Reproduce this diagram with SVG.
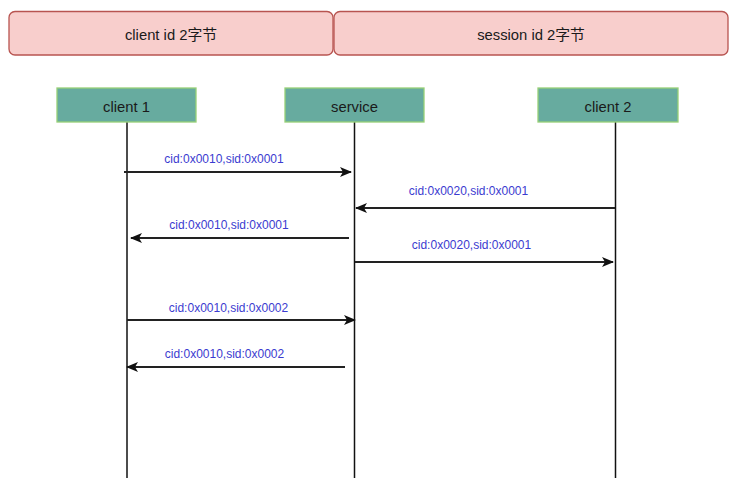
<svg xmlns="http://www.w3.org/2000/svg" width="735" height="493" viewBox="0 0 735 493">
<style>
.hdr{fill:#f8cecc;stroke:#b85450;stroke-width:1.3}
.part{fill:#67ab9f;stroke:#97d077;stroke-width:1.3}
.t{font-family:"Liberation Sans","Noto Sans CJK SC",Arial,sans-serif;font-size:14.8px;fill:#1a1a1a;text-anchor:middle;dominant-baseline:central}
.lbl{font-family:"Liberation Sans",Arial,sans-serif;font-size:12px;fill:#3b3bd0;text-anchor:middle}
.life{stroke:#111;stroke-width:1.5;fill:none}
.msg{stroke:#222;stroke-width:1.8;fill:none;marker-end:url(#ah)}
</style>
<defs>
<marker id="ah" viewBox="0 0 12 10" refX="11" refY="5" markerWidth="12" markerHeight="10" markerUnits="userSpaceOnUse" orient="auto">
<path d="M0,0 L12,5 L0,10 L3,5 Z" fill="#111"/>
</marker>
</defs>
<rect width="735" height="493" fill="#ffffff"/>
<g id="hdr-client">
<rect class="hdr" x="9" y="11.5" width="324" height="43.5" rx="6"/>
<text class="t" x="171" y="35">client id 2字节</text>
</g>
<g id="hdr-session">
<rect class="hdr" x="334" y="11.5" width="394" height="43.5" rx="6"/>
<text class="t" x="531" y="35">session id 2字节</text>
</g>
<g id="lifelines">
<line class="life" x1="127" y1="122" x2="127" y2="478"/>
<line class="life" x1="354.5" y1="122" x2="354.5" y2="478"/>
<line class="life" x1="615.5" y1="122" x2="615.5" y2="478"/>
</g>
<g id="client1">
<rect class="part" x="57" y="88" width="139" height="34"/>
<text class="t" x="126.5" y="106.5">client 1</text>
</g>
<g id="service">
<rect class="part" x="285" y="88" width="139" height="34"/>
<text class="t" x="354.5" y="106.5">service</text>
</g>
<g id="client2">
<rect class="part" x="538" y="88" width="140" height="34"/>
<text class="t" x="608" y="106.5">client 2</text>
</g>
<g id="connectors">
<line class="msg" x1="124" y1="172" x2="351" y2="172"/>
<text class="lbl" x="224" y="163">cid:0x0010,sid:0x0001</text>
<line class="msg" x1="615" y1="208" x2="356" y2="208"/>
<text class="lbl" x="468.5" y="195">cid:0x0020,sid:0x0001</text>
<line class="msg" x1="349" y1="238" x2="131" y2="238"/>
<text class="lbl" x="229" y="229">cid:0x0010,sid:0x0001</text>
<line class="msg" x1="355" y1="262" x2="613" y2="262"/>
<text class="lbl" x="471.5" y="249">cid:0x0020,sid:0x0001</text>
<line class="msg" x1="127" y1="320" x2="355" y2="320"/>
<text class="lbl" x="228.5" y="312">cid:0x0010,sid:0x0002</text>
<line class="msg" x1="345" y1="367" x2="127" y2="367"/>
<text class="lbl" x="224.5" y="358">cid:0x0010,sid:0x0002</text>
</g>
</svg>
